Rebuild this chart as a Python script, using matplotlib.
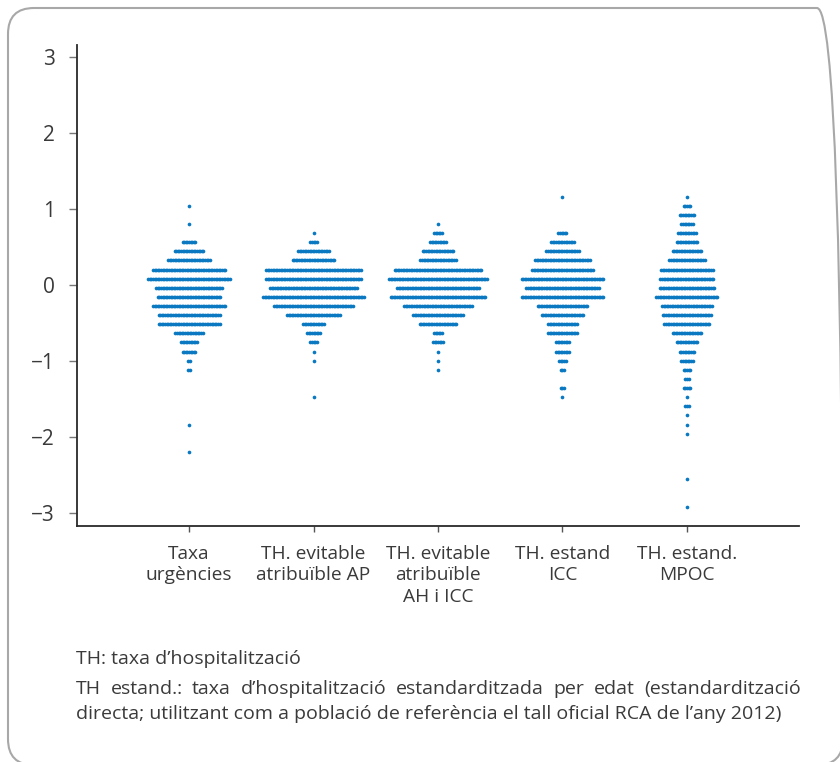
import numpy as np
import matplotlib
matplotlib.use("Agg")
import matplotlib.pyplot as plt
from matplotlib.patches import FancyBboxPatch
from matplotlib.transforms import IdentityTransform

plt.rcParams['font.family'] = ['Open Sans', 'DejaVu Sans']

# nivells (valors z agrupats) i nombre d'ABS a cada nivell
levels = [1.165, 1.045, 0.925, 0.805, 0.685, 0.565, 0.445, 0.325, 0.205, 0.085,
          -0.035, -0.155, -0.275, -0.395, -0.515, -0.635, -0.755, -0.875, -0.995, -1.115,
          -1.235, -1.355, -1.475, -1.595, -1.715, -1.835, -1.955, -2.075, -2.195, -2.315,
          -2.435, -2.555, -2.675, -2.795, -2.915]

urgencies = [0, 1, 0, 1, 0, 9, 19, 27, 46, 52,
             42, 40, 46, 39, 39, 18, 11, 9, 2, 2,
             0, 0, 0, 0, 0, 1, 0, 0, 1, 0,
             0, 0, 0, 0, 0]
evitable_ap = [0, 0, 0, 0, 1, 5, 20, 27, 60, 60,
               55, 64, 50, 34, 14, 9, 5, 1, 1, 0,
               0, 0, 1, 0, 0, 0, 0, 0, 0, 0,
               0, 0, 0, 0, 0]
evitable_ah = [0, 0, 0, 1, 6, 11, 20, 23, 55, 62,
               52, 60, 43, 32, 24, 6, 7, 1, 1, 1,
               0, 0, 0, 0, 0, 0, 0, 0, 0, 0,
               0, 0, 0, 0, 0]
estand_icc = [1, 0, 0, 0, 6, 15, 21, 35, 39, 52,
              46, 52, 32, 27, 19, 19, 9, 9, 5, 3,
              0, 3, 1, 0, 0, 0, 0, 0, 0, 0,
              0, 0, 0, 0, 0]
estand_mpoc = [1, 5, 10, 8, 12, 14, 19, 23, 33, 34,
               35, 39, 32, 31, 29, 19, 14, 10, 8, 5,
               3, 5, 1, 3, 1, 1, 1, 0, 0, 0,
               0, 1, 0, 0, 1]

categories = ["Taxa\nurgències", "TH. evitable\natribuïble AP",
              "TH. evitable\natribuïble\nAH i ICC", "TH. estand\nICC",
              "TH. estand.\nMPOC"]
series = [urgencies, evitable_ap, evitable_ah, estand_icc, estand_mpoc]

nota1 = "TH: taxa d\u2019hospitalització"
nota2a = "TH estand.: taxa d\u2019hospitalització estandarditzada per edat (estandardització"
nota2b = "directa; utilitzant com a població de referència el tall oficial RCA de l\u2019any 2012)"

W, H = 840, 762
blue = '#0a79c2'
txt = '#3a3a3a'

fig = plt.figure(figsize=(W / 100, H / 100), dpi=100)
ax = fig.add_axes([77 / W, 1 - 526 / H, 722 / W, 481 / H])

step = 0.0129  # separacio horitzontal entre punts (unitats x)
for j, counts in enumerate(series):
    xs, ys = [], []
    for lv, n in zip(levels, counts):
        if n == 0:
            continue
        off = (np.arange(n) - (n - 1) / 2) * step
        xs.extend(j + 1 + off)
        ys.extend([lv] * n)
    ax.scatter(xs, ys, s=7, color=blue, linewidths=0)

ax.set_xlim(0.1, 5.9)
ax.set_ylim(-3.17, 3.16)
ax.set_yticks([-3, -2, -1, 0, 1, 2, 3])
ax.set_xticks(range(1, 6))
ax.set_xticklabels(categories, linespacing=1.25)
for s in ['top', 'right']:
    ax.spines[s].set_visible(False)
for s in ['left', 'bottom']:
    ax.spines[s].set_color('#2a2a2a')
    ax.spines[s].set_linewidth(1.3)
ax.tick_params(axis='y', length=6, width=1, color='#777777', labelsize=15, labelcolor=txt, pad=10)
ax.tick_params(axis='x', length=4.5, width=1, color='#555555', labelsize=13.8, labelcolor=txt, pad=9)

# notes al peu
fs = 14
fig.text(76 / W, 1 - 664 / H, nota1, fontsize=fs, color=txt, va='baseline')
fig.text(76 / W, 1 - 719 / H, nota2b, fontsize=fs, color=txt, va='baseline')

renderer = fig.canvas.get_renderer()
words = nota2a.split()
objs = [fig.text(0, 1 - 694 / H, w, fontsize=fs, color=txt, va='baseline') for w in words]
widths = [o.get_window_extent(renderer).width for o in objs]
x0, x1 = 76, 801
gap = (x1 - x0 - sum(widths)) / (len(words) - 1)
x = x0
for o, w in zip(objs, widths):
    o.set_x(x / W)
    x += w + gap

# marc arrodonit
frame = FancyBboxPatch((8, -3), 835, 757, boxstyle="round,pad=0,rounding_size=26",
                       transform=IdentityTransform(), fill=False,
                       edgecolor='#a8a8a8', linewidth=1.5)
fig.patches.append(frame)

fig.savefig('out.png', dpi=100)
